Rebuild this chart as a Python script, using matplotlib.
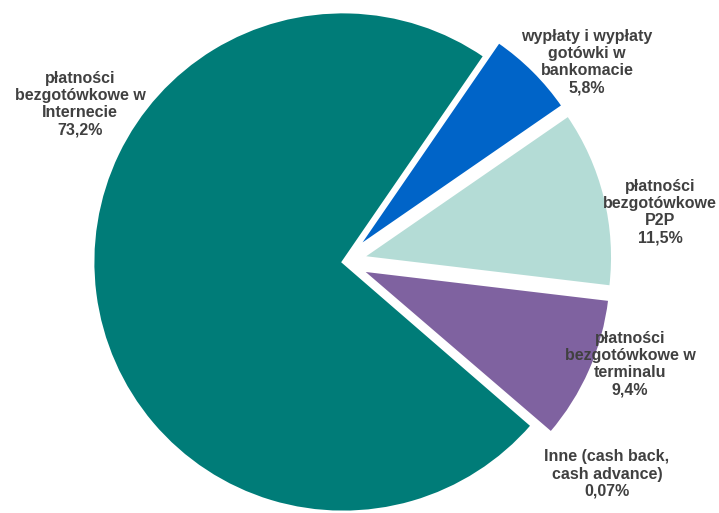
import matplotlib
matplotlib.use("Agg")
import matplotlib.pyplot as plt

# slice data, clockwise starting from the blue slice
labels = [
    "wypłaty i wypłaty\ngotówki w\nbankomacie",
    "płatności\nbezgotówkowe\nP2P",
    "płatności\nbezgotówkowe w\nterminalu",
    "Inne (cash back,\ncash advance)",
    "płatności\nbezgotówkowe w\nInternecie",
]
pct_text = ["5,8%", "11,5%", "9,4%", "0,07%", "73,2%"]
values = [5.8, 11.5, 9.4, 0.07, 73.2]
colors = ["#0064C8", "#B4DCD6", "#7F62A0", "#5A5A9A", "#007C78"]
explode = [0.08, 0.08, 0.08, 0.08, 0.0]

# label anchor points in pixels (x from left, y from top)
label_px = [(587, 62), (660, 212), (630, 364), (607, 474), (80, 104)]

W, H = 719, 513
cx, cy, R = 343, 262, 250

fig = plt.figure(figsize=(W / 100, H / 100), dpi=100)
ax = fig.add_axes([0, 0, 1, 1])

ax.pie(values, colors=colors, explode=explode, startangle=55.5,
       counterclock=False, radius=1.0, center=(0, 0),
       wedgeprops=dict(edgecolor="white", linewidth=2))

ax.set_xlim(-cx / R, (W - cx) / R)
ax.set_ylim(-(H - cy) / R, cy / R)
ax.set_aspect("equal")
ax.axis("off")

for lab, pct, (px, py) in zip(labels, pct_text, label_px):
    ax.text(px / W, 1 - py / H, lab + "\n" + pct, transform=ax.transAxes,
            ha="center", va="center", fontsize=11.5, fontweight="bold",
            family="Liberation Sans", color="#404040", linespacing=1.18)

fig.savefig("out.png", dpi=100)
